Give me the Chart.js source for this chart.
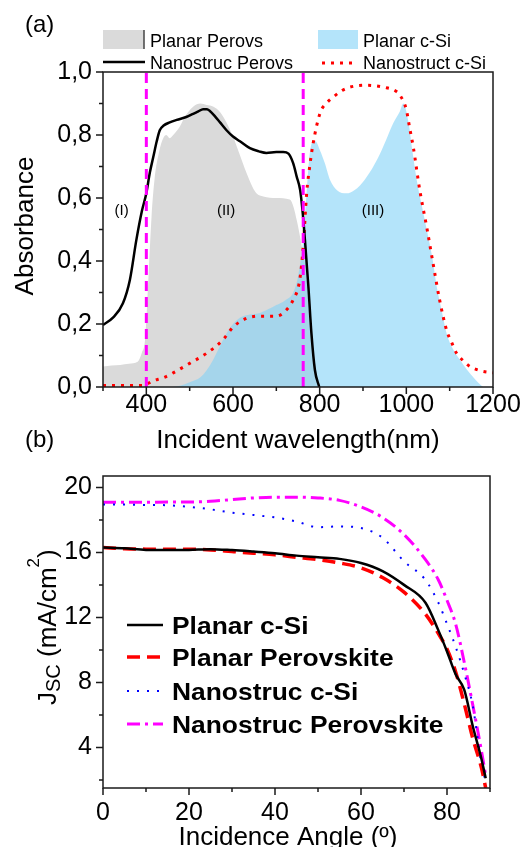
<!DOCTYPE html>
<html><head><meta charset="utf-8">
<script src="https://cdn.jsdelivr.net/npm/chart.js@4.4.1/dist/chart.umd.min.js"></script>
<style>
html,body{margin:0;padding:0;background:#fff;width:525px;height:847px;overflow:hidden;}
canvas{position:absolute;left:0;}
#ca{top:0;}
#cb{top:450px;}
</style></head><body>
<canvas id="ca" width="525" height="460"></canvas>
<canvas id="cb" width="525" height="397"></canvas>
<script>
// ---------- Panel (a): absorbance spectra ----------
const planarPerovsWl  = [300,320,340,360,380,390,397,405,412,419,430,439,446,454,462,477,490,508,525,539,555,570,585,600,615,631,645,654,670,700,731,740,747,753,759,765,775,785,795,800];
const planarPerovsAbs = [0.065,0.068,0.070,0.074,0.08,0.11,0.15,0.35,0.54,0.66,0.75,0.79,0.80,0.79,0.80,0.826,0.86,0.89,0.90,0.895,0.89,0.873,0.84,0.795,0.74,0.68,0.635,0.615,0.605,0.60,0.595,0.57,0.53,0.49,0.445,0.40,0.25,0.12,0.03,0];
const planarSiWl  = [460,480,500,524,540,554,570,585,600,616,640,662,700,720,739,750,762,770,777,785,790,801,812,824,840,862,880,893,915,939,955,970,985,993,1005,1015,1024,1035,1047,1060,1070,1082,1093,1108,1124,1140,1154,1165,1177];
const planarSiAbs = [0,0.005,0.015,0.03,0.055,0.086,0.13,0.17,0.20,0.22,0.23,0.235,0.26,0.275,0.30,0.35,0.47,0.62,0.74,0.78,0.78,0.75,0.71,0.657,0.625,0.615,0.625,0.64,0.68,0.74,0.79,0.838,0.875,0.90,0.84,0.74,0.657,0.58,0.50,0.41,0.32,0.24,0.17,0.12,0.086,0.055,0.032,0.015,0];
const nanoPerovsWl  = [300,323,346,362,377,390,400,408,416,424,431,440,454,470,492,508,520,531,540,546,558,570,585,600,616,639,660,677,700,716,728,739,747,755,761,766,774,781,789,799];
const nanoPerovsAbs = [0.197,0.22,0.266,0.34,0.467,0.56,0.615,0.68,0.73,0.78,0.815,0.83,0.84,0.848,0.857,0.867,0.875,0.882,0.882,0.877,0.86,0.84,0.815,0.795,0.78,0.758,0.748,0.743,0.746,0.746,0.741,0.71,0.668,0.625,0.551,0.467,0.318,0.17,0.054,0];
const nanoSiWl  = [300,350,392,416,440,462,500,539,577,600,631,662,700,720,739,754,762,770,777,785,801,815,831,850,870,908,954,975,985,1000,1008,1016,1031,1047,1062,1077,1093,1105,1116,1130,1147,1170,1200];
const nanoSiAbs = [0.005,0.005,0.005,0.02,0.03,0.045,0.075,0.107,0.15,0.19,0.218,0.225,0.225,0.24,0.277,0.34,0.445,0.615,0.70,0.774,0.87,0.90,0.92,0.94,0.952,0.958,0.95,0.94,0.927,0.88,0.82,0.762,0.625,0.508,0.39,0.275,0.18,0.14,0.107,0.085,0.065,0.052,0.045];
const regionBounds = [400, 762];
const regionLabels = ['(I)', '(II)', '(III)'];
const regionLabelWl = [343, 584, 923];
const regionLabelAbs = [0.56, 0.56, 0.56];
const xTicksA = [400, 600, 800, 1000, 1200];
const xMinorA = [300, 500, 700, 900, 1100];
const yTicksA = [0, 0.2, 0.4, 0.6, 0.8, 1.0];
const yMinorA = [0.1, 0.3, 0.5, 0.7, 0.9];

// ---------- Panel (b): Jsc vs incidence angle ----------
const angles = [0,5,10,15,20,25,30,35,40,45,50,55,60,65,70,75,78,80,82,84,86,88,89];
const jscPlanarSi    = [16.3,16.25,16.15,16.14,16.15,16.2,16.14,16.05,15.95,15.8,15.7,15.6,15.35,14.85,14.0,12.9,11.2,9.9,8.5,7.55,5.3,3.3,2.1];
const jscPlanarPerov = [16.3,16.22,16.2,16.2,16.2,16.15,16.05,15.95,15.85,15.7,15.55,15.35,15.05,14.45,13.55,12.2,11.0,10.05,8.65,6.7,4.55,2.75,1.5];
const jscNanoSi      = [18.94,18.94,18.92,18.9,18.8,18.65,18.45,18.3,18.15,17.9,17.55,17.6,17.5,16.9,15.45,14.3,12.9,11.6,10.2,8.55,6.55,3.0,1.9];
const jscNanoPerov   = [19.08,19.08,19.08,19.1,19.1,19.15,19.25,19.35,19.4,19.4,19.35,19.2,18.8,18.15,17.1,15.55,14.3,13.05,11.6,9.25,6.6,3.8,2.25];
const xTicksB = [0, 20, 40, 60, 80];
const xMinorB = [10, 30, 50, 70, 90];
const yTicksB = [4, 8, 12, 16, 20];
const yMinorB = [2, 6, 10, 14, 18];

const FONT = "'Liberation Sans', Arial, Helvetica, sans-serif";
Chart.defaults.font.family = FONT;
Chart.defaults.color = '#000';

const pts = (xs, ys) => xs.map((x, i) => ({x, y: ys[i]}));
const GREY = '#dadada';
const BLUE = 'rgba(130,210,247,0.6)';

function drawFrameTicks(chart, xMaj, xMin, yMaj, yMin) {
  const {ctx, chartArea: a, scales: {x, y}} = chart;
  ctx.save();
  ctx.strokeStyle = '#1a1a1a';
  ctx.lineWidth = 1.5;
  ctx.beginPath();
  yMaj.forEach(v => { const p = y.getPixelForValue(v); ctx.moveTo(a.left - 7, p); ctx.lineTo(a.left, p); });
  yMin.forEach(v => { const p = y.getPixelForValue(v); ctx.moveTo(a.left - 4, p); ctx.lineTo(a.left, p); });
  xMaj.forEach(v => { const p = x.getPixelForValue(v); ctx.moveTo(p, a.bottom + 7); ctx.lineTo(p, a.bottom); });
  xMin.forEach(v => { const p = x.getPixelForValue(v); ctx.moveTo(p, a.bottom + 4); ctx.lineTo(p, a.bottom); });
  ctx.stroke();
  ctx.strokeRect(a.left, a.top, a.right - a.left, a.bottom - a.top);
  ctx.restore();
}

function sample(ctx, ds, x1, x2, y) {
  ctx.save();
  ctx.strokeStyle = ds.borderColor;
  ctx.lineWidth = ds.borderWidth;
  ctx.setLineDash(ds.borderDash || []);
  ctx.beginPath(); ctx.moveTo(x1, y); ctx.lineTo(x2, y); ctx.stroke();
  ctx.restore();
}

// ---------- chart (a) ----------
const decorA = {
  id: 'decorA',
  afterDraw(chart) {
    const ctx = chart.ctx;
    const {x, y} = chart.scales;
    drawFrameTicks(chart, xTicksA, xMinorA, yTicksA, yMinorA);
    ctx.save();
    ctx.fillStyle = '#000';
    ctx.font = '15px ' + FONT;
    ctx.textAlign = 'center'; ctx.textBaseline = 'middle';
    regionLabels.forEach((t, i) => ctx.fillText(t, x.getPixelForValue(regionLabelWl[i]), y.getPixelForValue(regionLabelAbs[i])));
    const ds = chart.data.datasets;
    ctx.fillStyle = GREY; ctx.fillRect(103, 30, 41, 19);
    ctx.strokeStyle = '#444'; ctx.lineWidth = 1.5;
    ctx.beginPath(); ctx.moveTo(144, 30); ctx.lineTo(144, 49); ctx.stroke();
    ctx.fillStyle = BLUE; ctx.fillRect(318, 30, 40, 19);
    sample(ctx, ds.find(d => d.label === 'Nanostruc Perovs'), 103, 145, 62);
    sample(ctx, ds.find(d => d.label === 'Nanostruct c-Si'), 322, 358, 63);
    ctx.fillStyle = '#000';
    ctx.font = '18px ' + FONT;
    ctx.textAlign = 'left'; ctx.textBaseline = 'alphabetic';
    ctx.fillText('Planar Perovs', 150, 46.5);
    ctx.fillText('Planar c-Si', 363, 46.5);
    ctx.fillText('Nanostruc Perovs', 150, 69);
    ctx.fillText('Nanostruct c-Si', 363, 69);
    ctx.font = '24px ' + FONT;
    ctx.fillText('(a)', 25, 32);
    ctx.fillText('(b)', 25, 447);
    ctx.font = '26px ' + FONT;
    ctx.textAlign = 'center';
    ctx.fillText('Incident wavelength(nm)', 298, 448);
    ctx.translate(33, 226);
    ctx.rotate(-Math.PI / 2);
    ctx.fillText('Absorbance', 0, 0);
    ctx.restore();
  }
};

new Chart(document.getElementById('ca'), {
  type: 'line',
  data: {
    datasets: [
      {label: 'bound1', data: pts([regionBounds[0], regionBounds[0]], [0, 1]), borderColor: '#ff00ff', borderWidth: 3, borderDash: [10, 6], pointRadius: 0, tension: 0, order: 0},
      {label: 'bound2', data: pts([regionBounds[1], regionBounds[1]], [0, 1]), borderColor: '#ff00ff', borderWidth: 3, borderDash: [10, 6], pointRadius: 0, tension: 0, order: 0},
      {label: 'Nanostruc Perovs', data: pts(nanoPerovsWl, nanoPerovsAbs), borderColor: '#000', borderWidth: 2.5, pointRadius: 0, cubicInterpolationMode: 'monotone', order: 1},
      {label: 'Nanostruct c-Si', data: pts(nanoSiWl, nanoSiAbs), borderColor: '#ff0000', borderWidth: 3, borderDash: [3, 6], pointRadius: 0, cubicInterpolationMode: 'monotone', order: 2},
      {label: 'Planar c-Si', data: pts(planarSiWl, planarSiAbs), borderColor: 'rgba(0,0,0,0)', borderWidth: 0, backgroundColor: BLUE, fill: 'origin', pointRadius: 0, cubicInterpolationMode: 'monotone', order: 3},
      {label: 'Planar Perovs', data: pts(planarPerovsWl, planarPerovsAbs), borderColor: 'rgba(0,0,0,0)', borderWidth: 0, backgroundColor: GREY, fill: 'origin', pointRadius: 0, cubicInterpolationMode: 'monotone', order: 4}
    ]
  },
  options: {
    animation: false, responsive: false, devicePixelRatio: 1,
    layout: {padding: {top: 72, right: 32, left: 0, bottom: 0}},
    plugins: {legend: {display: false}, tooltip: {enabled: false}},
    scales: {
      x: {
        type: 'linear', min: 300, max: 1200,
        grid: {display: false, drawTicks: false}, border: {display: false},
        ticks: {font: {size: 25}, padding: 3, maxRotation: 0, autoSkip: false, color: '#000', callback: v => String(v)},
        afterBuildTicks: s => { s.ticks = xTicksA.map(v => ({value: v})); },
        afterFit: s => { s.height = 73; }
      },
      y: {
        type: 'linear', min: 0, max: 1,
        grid: {display: false, drawTicks: false}, border: {display: false},
        ticks: {font: {size: 25}, padding: 11, autoSkip: false, color: '#000', callback: v => Number(v).toFixed(1).replace('.', ',')},
        afterBuildTicks: s => { s.ticks = yTicksA.map(v => ({value: v})); },
        afterFit: s => { s.width = 103; }
      }
    }
  },
  plugins: [decorA]
});

// ---------- chart (b) ----------
const decorB = {
  id: 'decorB',
  afterDraw(chart) {
    const ctx = chart.ctx;
    drawFrameTicks(chart, xTicksB, xMinorB, yTicksB, yMinorB);
    ctx.save();
    const ds = chart.data.datasets;
    const rows = [175, 207, 241, 274];
    ds.forEach((d, i) => {
      sample(ctx, d, 127, 163, rows[i]);
      ctx.save();
      ctx.fillStyle = '#000';
      ctx.font = 'bold 24px ' + FONT;
      ctx.textAlign = 'left'; ctx.textBaseline = 'alphabetic';
      ctx.translate(172, rows[i] + 8.5);
      ctx.scale(1.1, 1);
      ctx.fillText(d.label, 0, 0);
      ctx.restore();
    });
    ctx.fillStyle = '#000';
    ctx.textBaseline = 'alphabetic';
    ctx.font = '26px ' + FONT;
    ctx.textAlign = 'center';
    ctx.fillText('Incidence Angle (º)', 288, 395);
    ctx.translate(56, 255);
    ctx.rotate(-Math.PI / 2);
    ctx.textAlign = 'left';
    const parts = [
      ['J', 26, 0], ['SC', 20, 4], [' (mA/cm', 26, 0], ['2', 17, -17], [')', 26, 0]
    ];
    let px = 0;
    parts.forEach(([t, s, dy]) => {
      ctx.font = s + 'px ' + FONT;
      ctx.fillText(t, px, dy);
      px += ctx.measureText(t).width;
    });
    ctx.restore();
  }
};

new Chart(document.getElementById('cb'), {
  type: 'line',
  data: {
    datasets: [
      {label: 'Planar c-Si', data: pts(angles, jscPlanarSi), borderColor: '#000', borderWidth: 2.5, pointRadius: 0, cubicInterpolationMode: 'monotone'},
      {label: 'Planar Perovskite', data: pts(angles, jscPlanarPerov), borderColor: '#ff0000', borderWidth: 3.5, borderDash: [13, 7], pointRadius: 0, cubicInterpolationMode: 'monotone'},
      {label: 'Nanostruc c-Si', data: pts(angles, jscNanoSi), borderColor: '#0000ff', borderWidth: 2, borderDash: [2, 8], pointRadius: 0, cubicInterpolationMode: 'monotone'},
      {label: 'Nanostruc Perovskite', data: pts(angles, jscNanoPerov), borderColor: '#ff00ff', borderWidth: 3, borderDash: [13, 5, 3, 5], pointRadius: 0, cubicInterpolationMode: 'monotone'}
    ]
  },
  options: {
    animation: false, responsive: false, devicePixelRatio: 1,
    layout: {padding: {top: 15, right: 35, left: 0, bottom: 0}},
    plugins: {legend: {display: false}, tooltip: {enabled: false}},
    scales: {
      x: {
        type: 'linear', min: 0, max: 90,
        grid: {display: false, drawTicks: false}, border: {display: false},
        ticks: {font: {size: 25}, padding: 10, maxRotation: 0, autoSkip: false, color: '#000'},
        afterBuildTicks: s => { s.ticks = xTicksB.map(v => ({value: v})); },
        afterFit: s => { s.height = 59; }
      },
      y: {
        type: 'linear', min: 1.5, max: 20.7,
        grid: {display: false, drawTicks: false}, border: {display: false},
        ticks: {font: {size: 25}, padding: 11, autoSkip: false, color: '#000'},
        afterBuildTicks: s => { s.ticks = yTicksB.map(v => ({value: v})); },
        afterFit: s => { s.width = 103; }
      }
    }
  },
  plugins: [decorB]
});
</script>
</body></html>
